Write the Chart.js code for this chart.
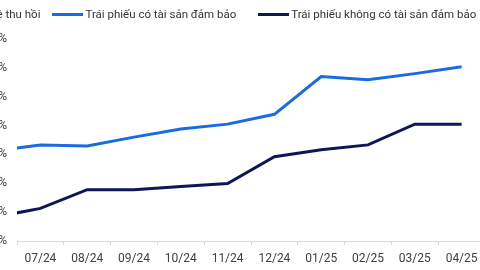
<!DOCTYPE html>
<html><head><meta charset="utf-8">
<script src="https://cdn.jsdelivr.net/npm/chart.js@4/dist/chart.umd.min.js"></script>
<style>
html,body{margin:0;padding:0;width:480px;height:270px;overflow:hidden;background:#fff;}
#wrap{position:absolute;left:-40px;top:0;width:560px;height:270px;}
#top{position:absolute;left:-21px;top:6px;height:16px;display:flex;align-items:center;font:11.5px Roboto,sans-serif;color:#333;white-space:nowrap;}
#top .t{margin-right:12px;}
#top .ln{display:inline-block;width:31px;height:3px;margin-right:2px;}
#top .it{display:flex;align-items:center;margin-right:22px;}
</style></head><body>
<div id="wrap"><canvas id="c" width="560" height="270"></canvas></div>
<div id="top"><span class="t" id="ttl"></span><span id="leg" style="display:flex;align-items:center"></span></div>
<script>
const chartTitle = 'Tỷ lệ thu hồi';
const categories = ['06/24','07/24','08/24','09/24','10/24','11/24','12/24','01/25','02/25','03/25','04/25','05/25'];
const securedValues = [31.2, 33.3, 32.9, 36.0, 38.8, 40.5, 43.9, 57.0, 55.9, 58.0, 60.4, 60.4];
const unsecuredValues = [8.2, 11.3, 17.8, 17.8, 18.9, 19.9, 29.2, 31.6, 33.3, 40.5, 40.5, 40.5];
const seriesNames = ['Trái phiếu có tài sản đảm bảo', 'Trái phiếu không có tài sản đảm bảo'];
const seriesColors = ['#1a6be0', '#0f1657'];
const yTicks = [0, 10, 20, 30, 40, 50, 60, 70];

document.getElementById('ttl').textContent = chartTitle;

const chart = new Chart(document.getElementById('c'), {
  type: 'line',
  data: {
    labels: categories,
    datasets: [
      { label: seriesNames[0], data: securedValues, borderColor: seriesColors[0], backgroundColor: seriesColors[0], borderWidth: 3, pointRadius: 0, tension: 0 },
      { label: seriesNames[1], data: unsecuredValues, borderColor: seriesColors[1], backgroundColor: seriesColors[1], borderWidth: 3, pointRadius: 0, tension: 0 }
    ]
  },
  options: {
    responsive: false,
    animation: false,
    layout: { padding: { left: 0, right: 35, top: 39, bottom: 0 } },
    plugins: {
      tooltip: { enabled: false },
      legend: { display: false }
    },
    scales: {
      x: {
        type: 'category', min: '07/24', max: '04/25', offset: true,
        grid: { display: true, drawOnChartArea: false, drawTicks: true, tickLength: 4, color: '#d9d9d9', offset: true },
        border: { display: true, color: '#d9d9d9' },
        ticks: { padding: 7, color: '#404040', font: { family: 'Roboto', size: 12 }, maxRotation: 0, autoSkip: false },
        afterFit: s => { s.height = 29; }
      },
      y: {
        min: 0, max: 70,
        afterBuildTicks: s => { s.ticks = yTicks.map(v => ({ value: v })); },
        grid: { display: false, drawTicks: false },
        border: { display: false },
        ticks: { padding: 10, color: '#404040', font: { family: 'Roboto', size: 12 }, callback: v => v + '%' },
        afterFit: s => { s.width = 57; }
      }
    }
  }
});

const leg = document.getElementById('leg');
chart.data.datasets.forEach(ds => {
  const it = document.createElement('span'); it.className = 'it';
  const ln = document.createElement('span'); ln.className = 'ln'; ln.style.background = ds.borderColor;
  const tx = document.createElement('span'); tx.textContent = ds.label;
  it.appendChild(ln); it.appendChild(tx); leg.appendChild(it);
});
</script>
</body></html>
